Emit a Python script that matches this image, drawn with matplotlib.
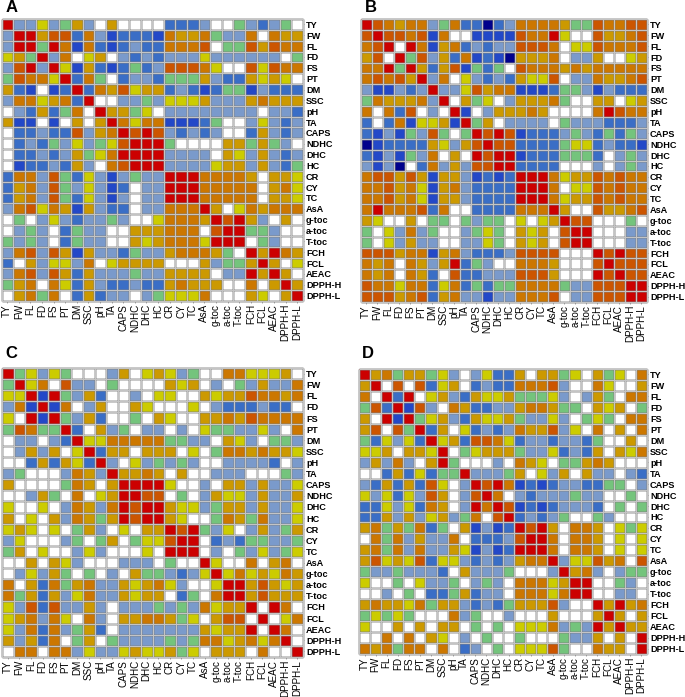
import numpy as np
import matplotlib
matplotlib.use("Agg")
import matplotlib.pyplot as plt
from matplotlib.colors import ListedColormap, BoundaryNorm

labels = ["TY","FW","FL","FD","FS","PT","DM","SSC","pH","TA","CAPS","NDHC","DHC","HC","CR","CY","TC","AsA","g-toc","a-toc","T-toc","FCH","FCL","AEAC","DPPH-H","DPPH-L"]

# correlation class of each cell, one letter per cell (n strongest negative ... r strongest positive)
panel_a = [
"rllylgolwowwwwmmmlwwglmlgw",
"lrrossmdlbmmmbdoodglldwdoo",
"lrrgrdbdmbmlmmdddswggsosdd",
"yogrldwyowlmlmlllyllllllwg",
"lsrlrybombmgmlsssdywwsysdd",
"gsddyrmdgwmllmgggolmmoyoyw",
"ombwbmrmdosyoomlmbmggblmmm",
"lddyodmrwwllglyyyolllodooo",
"wlmomgdwroogywllllllllwllm",
"obbwbwowordyddbbbmgwwlylml",
"wmmlmmslodrsrslmlmlwwmolml",
"wmlmglylgysrrrgwwwwoogoglw",
"wmmlmlogydrrrrllllwoylolml",
"wbmmlmolwdsrrrllllyoololmg",
"mddlsgmylblgllrrrddddowooy",
"modlsglylbmwllrrrdddddwody",
"modlsgmylblwllrrrdddddwooy",
"ldsydobolmmwlldddrowydoddd",
"wgwlylmllglwwydddorsrolwow",
"wlglwmgllwwooodddwsrrgglww",
"glglwmgllwwoyodddyrrrwglww",
"ldslsobollmgllodddogwrordo",
"mwolyyldwyoooowwwolggorowy",
"ldslsomolllglloooowllrorow",
"godwdymolmmlmmodooowwdworo",
"wodgdwmomllwlgyyydwwwoywor",
]

panel_b = [
"rsdoddlgdmmnmlddddoggsddss",
"srssdsbdwwbbbbsddrywwsoods",
"dsrwrdbodmlmllsssdwyysddds",
"oswrgslomdbmbnooodwllowwyo",
"ddrgromosbgmgwsdddododdddd",
"dsdsorldwylmlmoyyswlldoods",
"lbblmlrllysoddbbbmgglblmmm",
"gdooodlrwogywlooodgwwoowyo",
"dwdmswlwrbwlooodowwwwdrsdd",
"mwmdbyyobrgowllllwglllmmml",
"mblbglsgwgrsrsbmmmlglmgmgl",
"nbmmmmoylosrssmmmmgyymlmmb",
"mblbgldwowrsrrbmmmgggmwlgl",
"lblnwmdlolssrrmmmmwwwlwlgl",
"dssosoboolbmbmrrrdyoosdsdd",
"ddsodybodlmmmmrrrdwyysdsdd",
"ddsodyboolmmmmrrrdyoosdsdd",
"drdddsmdwwmmmmdddrowwsoods",
"oywwowggwglggwywyorsswwwgw",
"gwyldlgwwlgygwoyowsrrwwwll",
"gwylollwwllygwoyowsrrwwwll",
"sssoddbodlmmmlsssswwwrsrss",
"dodwdolormglwwdddowwwsrsss",
"dodwdomwsmmlllsssowwwrsrss",
"sddyddmydmgmggddddgllsssrr",
"sssodsmodllblldddswllsssrr",
]

panel_c = [
"rgylygwwwlowyoylgwwddyyyow",
"grydwsllwgwwwwoyowlwglolld",
"yyrbrglomwwlwyywwoyoosddod",
"ldbrbdwlowwoywwwywlmmmlmmw",
"ywrbrglomwwgwoywwoodosdddd",
"gsdggrmwolgwllwlwyggllylwd",
"wllwlmryydddddggllwoylwggl",
"wlolowyrmoowooowywgddodooy",
"wwmomoymrlwylglglwwllllmwl",
"lgwwwldolroodowowwlllwwwgl",
"owwwwgdoworrrrywwlwoololly",
"wwlogwdwyorrsswgwloyylollo",
"ywwywldoldrsrroyylgoololly",
"owywoldogorsrroywwgdogdlly",
"yoywywgolwywoorsrglywlolgo",
"lywwwlgwgowgyysrrwmlmggllg",
"gowywwlylwwwywrrrwlwglylgy",
"wwowoylwwwlllwgwwrywwdwodw",
"wlylogwgwlwogglmlyrydyoydo",
"dwomdgodlloyodylwwyrrosoyo",
"dgomolydlloyoowmgwdrrosooo",
"ylsmsllolwlllglgldyoorwrdw",
"yodldywdlwooddogywosswrwyd",
"yldmdlgomwllllllloyoorwrdw",
"olomdwgowgllllglgddyodydrw",
"wddwddlyllyoyyogywooowdwwr",
]

panel_d = [
"rodgoogylwlymmowoogywogywd",
"orwswsmyowmlmmdddslwwdywwo",
"dwrmrwyolmoyyogggylwlogwdd",
"gsmrbslwdommlloddoggwoyowg",
"owrbrgyolmoyyogllylwgygwdd",
"oswsgrmowymlmldooslywdwowd",
"gmylymryomssdymllmllmgwwow",
"yyowooyrwgyooogllymlmowoyd",
"loldlworgwwwlwdoywggodowww",
"wwmomymggrlllgowylowollwlm",
"lmomomsywlrsrdbmbmllmmggwl",
"ylymylsowlsrdwlmlllgllwwgw",
"mmylymdowlrdrsbmbmlllmwgwg",
"mmololyolgdwsrmlmlgwwglwww",
"odgogdmgwoblbmrsrowddowygy",
"wdgdlolldwmmmlsrrdwddowywy",
"odgdldlloyblbmrrrdwddowywy",
"osyoysmyylmlmloddrlyysodws",
"gllglllmwolllgwwwlrodlwlgg",
"ywwgwyllgwlglwdddyorrwwglw",
"wwlwgwmmgomllwdddydrrwwllw",
"odooydgoolmlmgoooslwwrorod",
"gygygwwwdlgwwlwwwowwworowo",
"ywwowowoowgwgwyyydlglroroo",
"wwdwdwoywlwgwwgwwwgllowowr",
"dodgddwdwmlwgwyyysgwwdoowr",
]

class_order = "nbmlgwyodsr"
class_colors = ["#00008c","#2348c8","#3a6ec6","#7a9acb","#74c47c","#ffffff",
                "#cccc00","#cc9900","#cc7700","#cc5500","#cc0000"]

W, H = 685, 697
panels = [
    ("A", panel_a, 1.5, 303, 19, 301, 6, 12),
    ("B", panel_b, 360.5, 647, 19, 302, 365, 12),
    ("C", panel_c, 2, 303, 368, 657, 5, 358),
    ("D", panel_d, 359, 647, 369, 654, 362, 358),
]

def decode(name, rows):
    bad = [(i, len(r)) for i, r in enumerate(rows) if len(r) != 26]
    if bad:
        raise ValueError(f"{name} {bad}")
    return np.array([[class_order.index(c) for c in r] for r in rows])

plt.rcParams["font.family"] = ["Liberation Sans", "DejaVu Sans"]
fig = plt.figure(figsize=(W/100, H/100), dpi=100)
cmap = ListedColormap(class_colors)
norm = BoundaryNorm(np.arange(-0.5, 11), 11)
edges = np.arange(27)
for name, rows, l, r, t, b, lx, ly in panels:
    m = decode(name, rows)
    ax = fig.add_axes([l/W, 1-b/H, (r-l)/W, (b-t)/H])
    ax.pcolormesh(m, cmap=cmap, norm=norm, linewidth=0)
    ax.set_xlim(0, 26); ax.set_ylim(26, 0)
    for lw, col, al in [(1.8, "#808080", 0.55), (0.75, "#c4c4c4", 1.0)]:
        ax.vlines(edges, 0, 26, color=col, linewidth=lw, alpha=al, clip_on=False, zorder=3)
        ax.hlines(edges, 0, 26, color=col, linewidth=lw, alpha=al, clip_on=False, zorder=3)
    for s in ax.spines.values():
        s.set_visible(False)
    ax.yaxis.tick_right()
    ax.set_xticks(np.arange(26)+0.5, labels, rotation=90, fontsize=7.1)
    ax.set_yticks(np.arange(26)+0.5, labels, fontsize=6.6, fontweight="bold")
    ax.tick_params(axis="x", length=1.5, width=0.6, color="#999999", pad=0.7)
    ax.tick_params(axis="y", length=1, width=0.6, color="#999999", pad=1.2)
    fig.text(lx/W, 1-ly/H, name, fontsize=12, fontweight="bold", ha="left", va="baseline")
fig.savefig("out.png", dpi=100)
